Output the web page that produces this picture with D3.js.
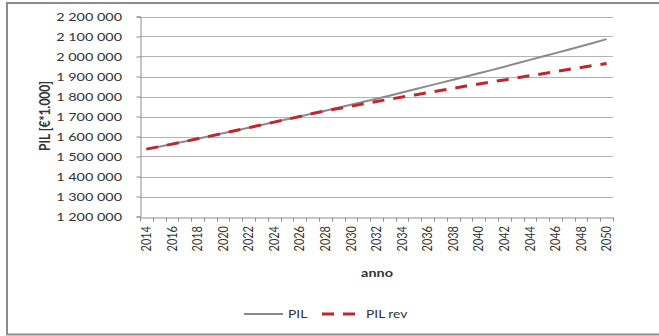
<!DOCTYPE html>
<html>
<head>
<meta charset="utf-8">
<script src="https://cdn.jsdelivr.net/npm/d3@7/dist/d3.min.js"></script>
<style>
  html, body { margin: 0; padding: 0; background: #fff; }
  svg { display: block; }
  text { font-family: Lato, "Open Sans", sans-serif; fill: #333; }
</style>
</head>
<body>
<svg id="chart" width="659" height="336"></svg>
<script>
// Anni della serie
const years = d3.range(2014, 2051);

// PIL a prezzi costanti (€*1.000)
const pil = [
  1537000, 1549000, 1562000, 1575000, 1589000, 1602000, 1616000, 1630000,
  1644000, 1658000, 1672000, 1686000, 1700000, 1715000, 1729000, 1744000,
  1759000, 1774000, 1789000, 1804000, 1820000, 1836000, 1852000, 1868000,
  1884000, 1900000, 1916000, 1932000, 1949000, 1966000, 1983000, 2000000,
  2017000, 2034000, 2051000, 2069000, 2087000
];

// PIL rivisto
const pilRev = [
  1537000, 1549000, 1562000, 1575000, 1589000, 1602000, 1616000, 1630000,
  1644000, 1658000, 1672000, 1686000, 1700000, 1715000, 1728000, 1740000,
  1751000, 1763000, 1775000, 1786000, 1797000, 1808000, 1819000, 1830000,
  1841000, 1852000, 1862000, 1873000, 1883000, 1893000, 1904000, 1914000,
  1924000, 1935000, 1945000, 1955000, 1965000
];

// Valori dell'asse verticale
const yTicks = [1200000, 1300000, 1400000, 1500000, 1600000, 1700000,
                1800000, 1900000, 2000000, 2100000, 2200000];

const seriesNames = ["PIL", "PIL rev"];

const svg = d3.select("#chart");
const sx = 1.2; // larghezza dei caratteri

// Bordo dell'area del grafico
svg.append("rect")
  .attr("x", 7).attr("y", 3)
  .attr("width", 680).attr("height", 331.5)
  .attr("fill", "none").attr("stroke", "#8c8c8c").attr("stroke-width", 2);

const plot = { left: 140, right: 613, top: 16.5, bottom: 216.5 };

const x = d3.scaleBand()
  .domain(years)
  .range([plot.left, plot.right])
  .paddingInner(0).paddingOuter(0);

const y = d3.scaleLinear()
  .domain([1200000, 2200000])
  .range([plot.bottom, plot.top]);

const fmt = v => d3.format(",")(v).replace(/,/g, " ");

// Griglia orizzontale
svg.append("g")
  .selectAll("line")
  .data(yTicks.slice(1))
  .join("line")
  .attr("x1", plot.left).attr("x2", plot.right)
  .attr("y1", d => Math.round(y(d)) + 0.5).attr("y2", d => Math.round(y(d)) + 0.5)
  .attr("stroke", "#b4b4b4").attr("stroke-width", 1);

// Asse Y
const yAxis = svg.append("g")
  .attr("transform", `translate(${plot.left + 0.5},0)`)
  .call(d3.axisLeft(y).tickValues(yTicks).tickSize(4).tickFormat(""));
yAxis.select(".domain").attr("stroke", "#8c8c8c");
yAxis.selectAll(".tick line").attr("stroke", "#8c8c8c");

svg.append("g")
  .selectAll("text")
  .data(yTicks)
  .join("text")
  .attr("transform", d => `translate(122,${y(d)}) scale(${sx},1)`)
  .attr("text-anchor", "end")
  .attr("dy", "0.35em")
  .style("font-size", "12px")
  .text(fmt);

// Asse X
const xAxis = svg.append("g")
  .attr("transform", `translate(0,${Math.round(plot.bottom) + 0.5})`)
  .call(d3.axisBottom(x).tickValues([]).tickSizeOuter(0));
xAxis.select(".domain").attr("stroke", "#8c8c8c");

// Tacche tra le categorie
svg.append("g")
  .selectAll("line")
  .data(years.concat([2051]))
  .join("line")
  .attr("x1", d => Math.round(d === 2051 ? plot.right : x(d)) + 0.5)
  .attr("x2", d => Math.round(d === 2051 ? plot.right : x(d)) + 0.5)
  .attr("y1", Math.round(plot.bottom) + 0.5)
  .attr("y2", Math.round(plot.bottom) + 4.5)
  .attr("stroke", "#8c8c8c");

svg.append("g")
  .selectAll("text")
  .data(years.filter(yr => (yr - 2014) % 2 === 0))
  .join("text")
  .attr("transform", d => `translate(${x(d) + x.bandwidth() / 2},226) scale(${sx},1) rotate(-90)`)
  .attr("text-anchor", "end")
  .attr("dy", "0.35em")
  .style("font-size", "11px")
  .text(d => d);

// Titoli degli assi
svg.append("text")
  .attr("transform", `translate(45,116) scale(${sx},1) rotate(-90)`)
  .attr("text-anchor", "middle")
  .attr("dy", "0.35em")
  .style("font-size", "12px").style("font-weight", "bold")
  .text("PIL [€*1.000]");

svg.append("text")
  .attr("transform", `translate(377,273) scale(${sx},1)`)
  .attr("text-anchor", "middle")
  .attr("dy", "0.35em")
  .style("font-size", "12px").style("font-weight", "bold")
  .text("anno");

// Linee
const cx = d => x(d) + x.bandwidth() / 2;
const line = d3.line().x((d, i) => cx(years[i])).y(d => y(d));

svg.append("path")
  .datum(pil)
  .attr("d", line)
  .attr("fill", "none")
  .attr("stroke", "#8a8a8a")
  .attr("stroke-width", 2);

svg.append("path")
  .datum(pilRev)
  .attr("d", line)
  .attr("fill", "none")
  .attr("stroke", "#c0262d")
  .attr("stroke-width", 3)
  .attr("stroke-dasharray", "12,9");

// Legenda
const lg = svg.append("g");
lg.append("line")
  .attr("x1", 244).attr("x2", 283).attr("y1", 314).attr("y2", 314)
  .attr("stroke", "#8a8a8a").attr("stroke-width", 2);
lg.append("text")
  .attr("transform", `translate(288,314) scale(${sx},1)`)
  .attr("dy", "0.35em")
  .style("font-size", "11.5px")
  .text(seriesNames[0]);
lg.append("line")
  .attr("x1", 322).attr("x2", 355).attr("y1", 314).attr("y2", 314)
  .attr("stroke", "#c0262d").attr("stroke-width", 3)
  .attr("stroke-dasharray", "12,9");
lg.append("text")
  .attr("transform", `translate(366,314) scale(${sx},1)`)
  .attr("dy", "0.35em")
  .style("font-size", "11.5px")
  .text(seriesNames[1]);
</script>
</body>
</html>
